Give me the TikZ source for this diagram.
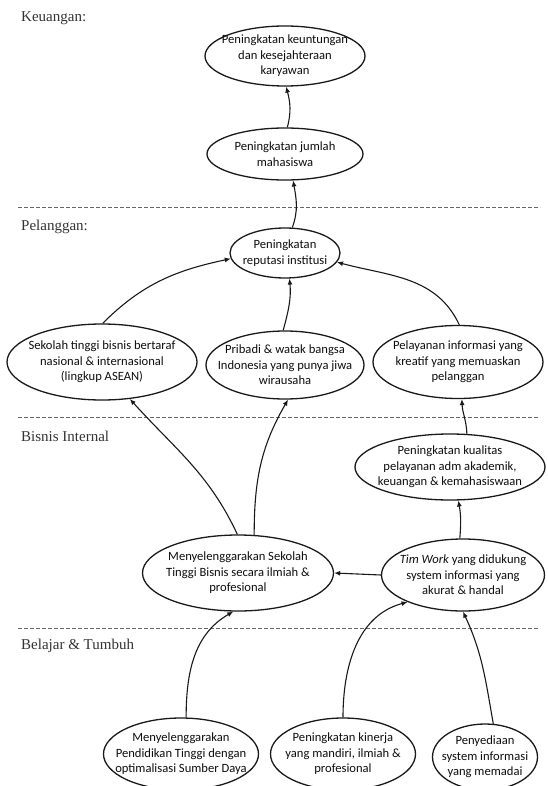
\documentclass[tikz,border=0pt]{standalone}
\usepackage{fontspec}
\setmainfont{Liberation Serif}
\newfontfamily\nodefont{Carlito}
\usetikzlibrary{shapes.geometric,arrows.meta}
\begin{document}
\begin{tikzpicture}[x=1pt,y=1pt,
  ell/.style={draw=black!90, line width=1.3pt, ellipse, inner sep=0pt},
  txt/.style={font=\nodefont\fontsize{12.6}{15.5}\selectfont, align=center, text=black!95, inner sep=0pt},
  lbl/.style={font=\fontsize{15}{18}\selectfont, anchor=west, text=black!80, inner sep=0pt},
  arr/.style={line width=1.1pt, draw=black!90, -{Latex[length=6pt,width=5pt]}},
  sep/.style={line width=0.8pt, draw=black!60, dash pattern=on 3.5pt off 2.5pt}]
\useasboundingbox (0,0) rectangle (547,-786);

% section labels
\node[lbl] (lk) at (21,-18) {Keuangan:};
\node[lbl] (lp) at (21,-227) {Pelanggan:};
\node[lbl] (lb) at (21,-436) {Bisnis Internal};
\node[lbl] (lt) at (21,-646) {Belajar \& Tumbuh};

% separators
\coordinate (s1a) at (18,-207); \coordinate (s1b) at (540,-207);
\coordinate (s2a) at (18,-417); \coordinate (s2b) at (540,-417);
\coordinate (s3a) at (18,-628); \coordinate (s3b) at (540,-628);
\draw[sep] (s1a) -- (s1b);
\draw[sep] (s2a) -- (s2b);
\draw[sep] (s3a) -- (s3b);

% ellipses
\node[ell, minimum width=160pt, minimum height=60pt] (e1) at (285,-56) {};
\node[txt] (t1) at (e1) {Peningkatan keuntungan\\dan kesejahteraan\\karyawan};
\node[ell, minimum width=156pt, minimum height=52pt] (e2) at (285,-154) {};
\node[txt] (t2) at (e2) {Peningkatan jumlah\\mahasiswa};
\node[ell, minimum width=110pt, minimum height=50pt] (e3) at (285,-253) {};
\node[txt] (t3) at (e3) {Peningkatan\\reputasi institusi};

\node[ell, minimum width=190pt, minimum height=76pt] (e4) at (102,-362) {};
\node[txt] (t4) at (e4) {Sekolah tinggi bisnis bertaraf\\nasional \& internasional\\(lingkup ASEAN)};
\node[ell, minimum width=158pt, minimum height=68pt] (e5) at (285,-365) {};
\node[txt] (t5) at (e5) {Pribadi \& watak bangsa\\Indonesia yang punya jiwa\\wirausaha};
\node[ell, minimum width=170pt, minimum height=73pt] (e6) at (458,-362) {};
\node[txt] (t6) at (e6) {Pelayanan informasi yang\\kreatif yang memuaskan\\pelanggan};

\node[ell, minimum width=190pt, minimum height=66pt] (e7) at (450,-467) {};
\node[txt] (t7) at (e7) {Peningkatan kualitas\\pelayanan adm akademik,\\keuangan \& kemahasiswaan};
\node[ell, minimum width=191pt, minimum height=76pt] (e8) at (238,-573) {};
\node[txt] (t8) at (e8) {Menyelenggarakan Sekolah\\Tinggi Bisnis secara ilmiah \&\\profesional};
\node[ell, minimum width=163pt, minimum height=72pt] (e9) at (463,-575) {};
\node[txt] (t9) at (e9) {\textit{Tim Work} yang didukung\\system informasi yang\\akurat \& handal};

\node[ell, minimum width=155pt, minimum height=72pt] (e10) at (181,-754) {};
\node[txt] (t10) at (e10) {Menyelenggarakan\\Pendidikan Tinggi dengan\\optimalisasi Sumber Daya};
\node[ell, minimum width=145pt, minimum height=72pt] (e11) at (343,-754) {};
\node[txt] (t11) at (e11) {Peningkatan kinerja\\yang mandiri, ilmiah \&\\profesional};
\node[ell, minimum width=105pt, minimum height=66pt] (e12) at (485,-757) {};
\node[txt] (t12) at (e12) {Penyediaan\\system informasi\\yang memadai};

% connectors
\draw[arr] (e2.85) to[out=75,in=-75] (e1.-88);
\draw[arr] (e3.74) to[out=70,in=-80] (e2.-73);
\draw[arr] (e4.89) to[out=45,in=192] (e3.186);
\draw[arr] (e5.93) to[out=75,in=-85] (e3.-80);
\draw[arr] (e6.88) to[out=115,in=-15] (e3.-10);
\draw[arr] (e7.63) to[out=92,in=-88] (e6.-84);
\draw[arr] (e8.91) to[out=115,in=-48] (e4.-53);
\draw[arr] (e8.67) to[out=90,in=-120] (e5.-85);
\draw[arr] (e9.95) to[out=85,in=-80] (e7.-76);
\draw[arr] (e9.west) -- (e8.east);
\draw[arr] (e10.82) to[out=90,in=210] (e8.-97);
\draw[arr] (e11.90) to[out=90,in=195] (e9.206);
\draw[arr] (e12.76) to[out=100,in=-65] (e9.-90);
\end{tikzpicture}
\end{document}
